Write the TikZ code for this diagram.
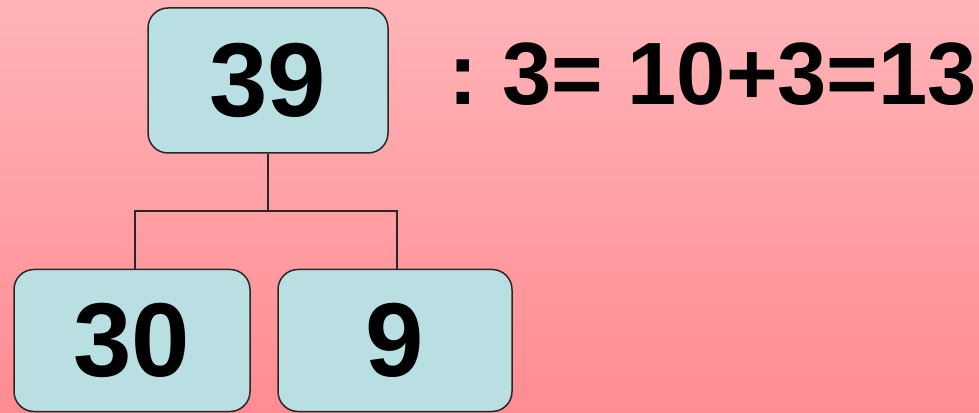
\documentclass[tikz,border=0pt]{standalone}
\usepackage{fontspec}
\setmainfont{Liberation Sans}
\usepackage{tikz}
\usetikzlibrary{positioning, calc}
\usepackage{xcolor}
\definecolor{pinktop}{HTML}{FFB4B8}
\definecolor{pinkbottom}{HTML}{FF8C92}
\definecolor{boxblue}{HTML}{B9DFE3}
\definecolor{edgegray}{HTML}{2A2626}

\tikzset{
    numbox/.style={draw=edgegray, fill=boxblue, rounded corners=20pt, line width=1.5pt,
        minimum height=142pt, inner sep=0pt, font=\fontsize{105}{110}\selectfont\bfseries},
    branch/.style={draw=edgegray, line width=2pt}
}

\begin{document}
\begin{tikzpicture}[x=1pt, y=1pt]
    % background
    \shade[top color=pinktop, bottom color=pinkbottom] (0,0) rectangle (979,412);
    \useasboundingbox (0,0) rectangle (979,412);

    % the number and its parts
    \node[numbox, minimum width=240pt, minimum height=145pt] (whole) at (268,331.5) {39};
    \node[numbox, minimum width=236pt] (tens) at (132,71.5) {30};
    \node[numbox, minimum width=234pt] (ones) at (395,71.5) {9};

    % fork
    \coordinate (fork) at ($(whole.south)+(0,-57)$);
    \draw[branch] (whole.south) -- (fork);
    \draw[branch] ([xshift=3pt]tens.north) |- (fork) -| ([xshift=2pt]ones.north);

    % division
    \node[anchor=base west, inner sep=0pt, font=\fontsize{88.5}{92}\selectfont\bfseries] (calc) at (448,307) {\frenchspacing : 3= 10+3=13};
\end{tikzpicture}
\end{document}
